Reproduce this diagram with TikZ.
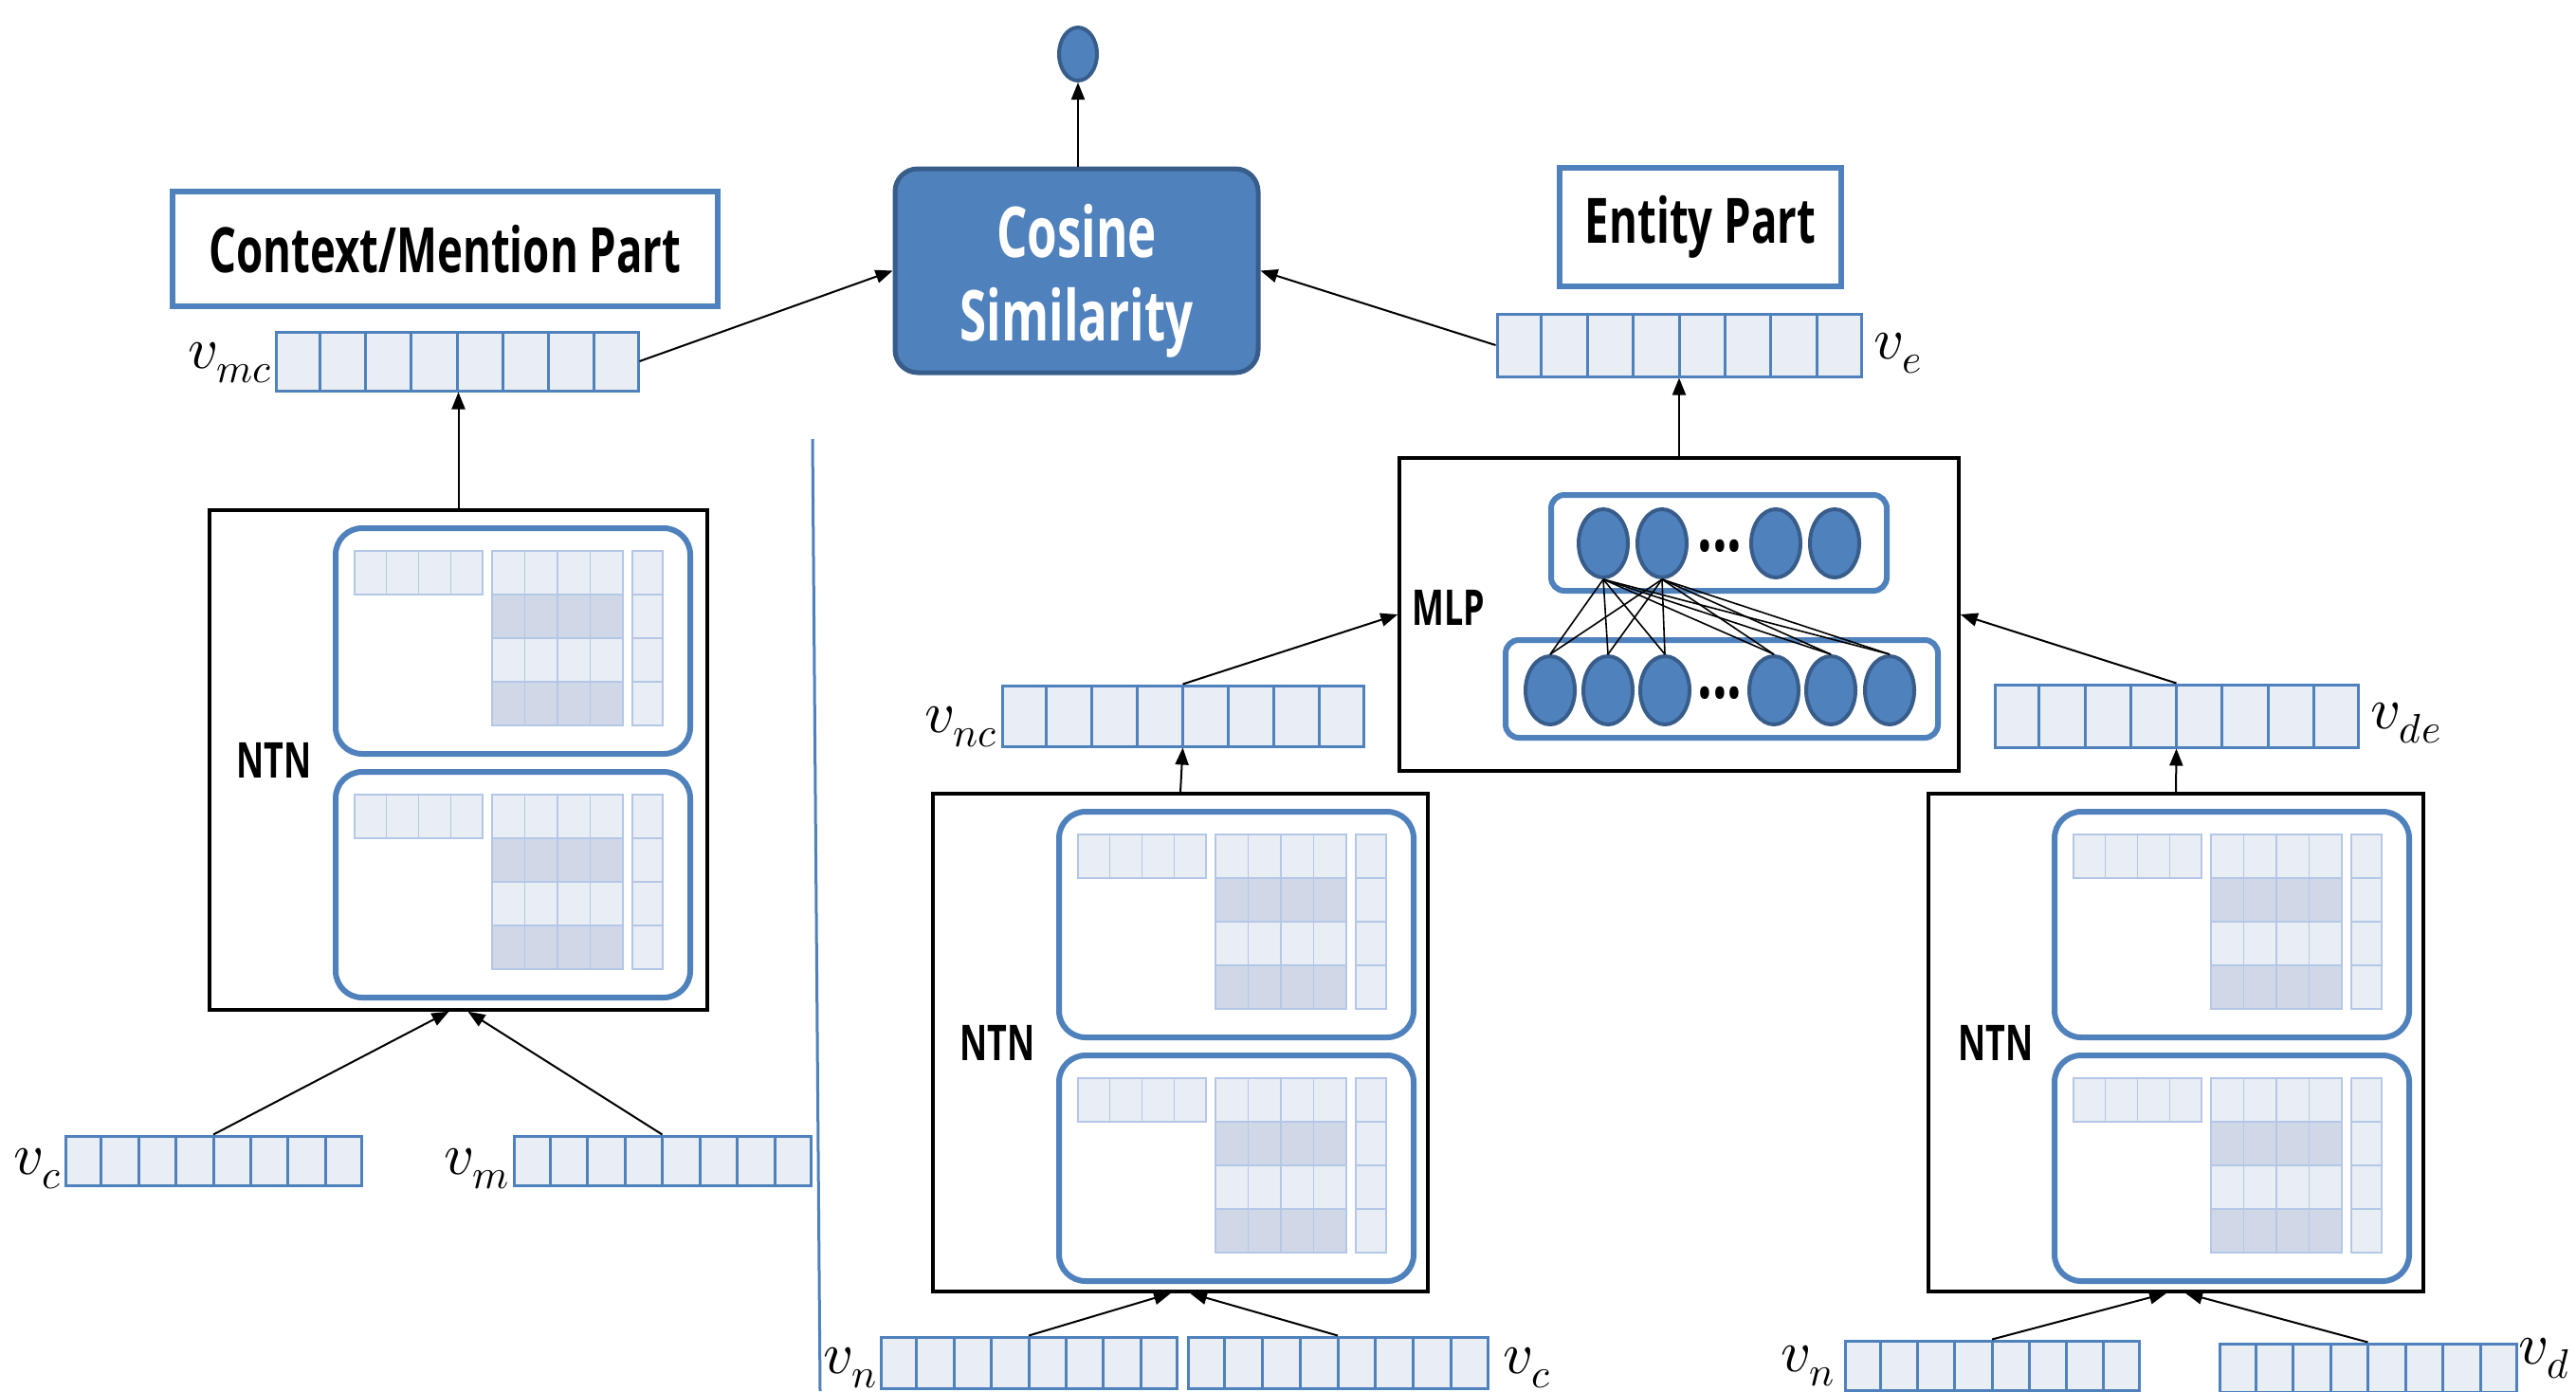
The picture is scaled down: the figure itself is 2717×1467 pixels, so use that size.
\documentclass[tikz,border=0pt]{standalone}
\usepackage{fontspec}
\usepackage{unicode-math}
\setmathfont{Latin Modern Math}
\newfontfamily\labfont{Open Sans}[FakeStretch=0.69]
\usetikzlibrary{arrows.meta,fit,calc,shapes.geometric}

\definecolor{obBlue}{HTML}{4F81BD}
\definecolor{obDark}{HTML}{385D8A}
\definecolor{cellLight}{HTML}{E9EDF4}
\definecolor{cellDark}{HTML}{D0D8E8}
\definecolor{gridBlue}{HTML}{B4C7E7}

\tikzset{
  vecbox/.style={draw=obBlue, fill=cellLight, line width=1.5pt, inner sep=0pt},
  vecedge/.style={draw=obBlue, line width=1.5pt},
  ntnbox/.style={draw=black, line width=1.75pt, inner sep=0pt},
  titlebox/.style={draw=obBlue, line width=3pt, fill=white, inner sep=0pt,
    font=\labfont\bfseries\fontsize{33}{36}\selectfont},
  cosbox/.style={draw=obDark, fill=obBlue, line width=2.5pt, rounded corners=12pt, inner sep=0pt},
  costext/.style={text=white, align=center, inner sep=0pt,
    font=\labfont\bfseries\fontsize{37}{44}\selectfont},
  neuron/.style={ellipse, draw=obDark, fill=obBlue, line width=2pt,
    minimum width=26pt, minimum height=36pt, inner sep=0pt},
  layerbox/.style={draw=obBlue, line width=3pt, rounded corners=7pt},
  tframe/.style={draw=obBlue, line width=3pt, rounded corners=14pt},
  cellL/.style={fill=cellLight, draw=gridBlue, line width=0.7pt},
  cellD/.style={fill=cellDark, draw=gridBlue, line width=0.7pt},
  blocklabel/.style={font=\labfont\bfseries\fontsize{26}{28}\selectfont, inner sep=0pt},
  dotlabel/.style={font=\labfont\bfseries\fontsize{40}{40}\selectfont, inner sep=0pt, anchor=base},
  mathlab/.style={font=\fontsize{31}{32}\selectfont, inner sep=0pt},
  conn/.style={draw=black, line width=1pt, -{Triangle[length=9pt,width=7pt]}},
  wire/.style={draw=black, line width=0.8pt},
}

% an 8-cell embedding vector spanning the given corners
\newcommand\vecn[5]{%
  \node[vecbox, fit={(#2,#3) (#4,#5)}] (#1) {};
  \foreach \k in {1,...,7}
    \draw[vecedge] ($(#1.north west)!\k/8!(#1.north east)$) -- ($(#1.south west)!\k/8!(#1.south east)$);
}

% one tensor slice: row vector, 4x4 matrix and column vector in a rounded frame
\newcommand\tensorgrid[2]{%
  \draw[tframe] (#1,#2) rectangle ++(374,238);
  \foreach \i in {0,...,3} {
    \draw[cellL] ({#1+20+\i*33.75},{#2+24}) rectangle ++(33.75,46);
    \draw[cellL] ({#1+313},{#2+24+\i*46}) rectangle ++(32,46);
  }
  \foreach \i in {0,...,3} \foreach \j in {0,2}
    \draw[cellL] ({#1+165+\i*34.5},{#2+24+\j*46}) rectangle ++(34.5,46);
  \foreach \i in {0,...,3} \foreach \j in {1,3}
    \draw[cellD] ({#1+165+\i*34.5},{#2+24+\j*46}) rectangle ++(34.5,46);
}

\begin{document}
\begin{tikzpicture}[x=0.5pt,y=-0.5pt]
\useasboundingbox (0,0) rectangle (2717,1467);
\fill[white] (0,0) rectangle (2717,1467);
\clip (0,0) rectangle (2717,1467);

% similarity head
\node[neuron, minimum width=20pt, minimum height=28pt] (out) at (1137,57) {};
\node[cosbox, minimum width=191.5pt, minimum height=107.5pt] (cos) at (1135.5,285.5) {};
\node[costext] (costxt) at ([yshift=-5.5pt]cos.center) {Cosine\\Similarity};

% part titles
\node[titlebox, minimum width=287.5pt, minimum height=60.5pt] (ctxTitle) at (469.5,262.5) {Context/Mention Part};
\node[titlebox, minimum width=148.5pt, minimum height=62.5pt] (entTitle) at (1793.5,239.5) {Entity Part};

% separator between the two parts
\coordinate (divTop) at (857,463);
\coordinate (divBot) at (865,1467);
\draw[obBlue, line width=1.5pt] (divTop) -- (divBot);

% vectors
\vecn{vmc}{291}{350}{673}{412}
\vecn{ve}{1579}{331}{1963}{397}
\vecn{vnc}{1057}{723}{1438}{787}
\vecn{vde}{2104}{722}{2487}{788}
\vecn{vcL}{69}{1198}{381}{1250}
\vecn{vmL}{542}{1198}{855}{1250}
\vecn{vnM}{929}{1410}{1241}{1464}
\vecn{vcM}{1253}{1410}{1569}{1464}
\vecn{vnR}{1946}{1414}{2256}{1466}
\vecn{vdR}{2341}{1417}{2654}{1468}

% NTN blocks
\node[ntnbox, fit={(221,538) (746,1065)}] (ntnL) {};
\node[ntnbox, fit={(984,837) (1506,1362)}] (ntnM) {};
\node[ntnbox, fit={(2034,837) (2556,1362)}] (ntnR) {};
\tensorgrid{354}{557}
\tensorgrid{354}{814}
\tensorgrid{1117}{856}
\tensorgrid{1117}{1113}
\tensorgrid{2167}{856}
\tensorgrid{2167}{1113}
\node[blocklabel] (ntnLlab) at (289,802) {NTN};
\node[blocklabel] (ntnMlab) at (1052,1100) {NTN};
\node[blocklabel] (ntnRlab) at (2105,1100) {NTN};

% MLP block
\node[ntnbox, fit={(1476,483) (2066,813)}] (mlp) {};
\node[blocklabel] (mlplab) at (1528,641) {MLP};
\draw[layerbox] (1636,522) rectangle (1990,623);
\draw[layerbox] (1588,675) rectangle (2044,778);
\node[neuron] (t1) at (1691,573) {};
\node[neuron] (t2) at (1753,573) {};
\node[neuron] (t3) at (1873,573) {};
\node[neuron] (t4) at (1935,573) {};
\node[neuron] (b1) at (1635,728) {};
\node[neuron] (b2) at (1696,728) {};
\node[neuron] (b3) at (1756,728) {};
\node[neuron] (b4) at (1871,728) {};
\node[neuron] (b5) at (1931,728) {};
\node[neuron] (b6) at (1993,728) {};
\foreach \s in {t1,t2} \foreach \d in {b1,b2,b3,b4,b5,b6}
  \draw[wire] (\s.south) -- (\d.north);
\node[dotlabel] (dotsT) at (1814,581) {...};
\node[dotlabel] (dotsB) at (1814,736) {...};

% labels
\node[mathlab, anchor=base east] (lvmc) at (288,388) {$v_{mc}$};
\node[mathlab, anchor=base west] (lve) at (1976,378) {$v_{e}$};
\node[mathlab, anchor=base east] (lvnc) at (1053,772) {$v_{nc}$};
\node[mathlab, anchor=base west] (lvde) at (2500,768) {$v_{de}$};
\node[mathlab, anchor=base east] (lvc) at (66,1238) {$v_{c}$};
\node[mathlab, anchor=base east] (lvm) at (538,1238) {$v_{m}$};
\node[mathlab, anchor=base east] (lvn1) at (926,1448) {$v_{n}$};
\node[mathlab, anchor=base west] (lvc2) at (1585,1448) {$v_{c}$};
\node[mathlab, anchor=base east] (lvn2) at (1936,1446) {$v_{n}$};
\node[mathlab, anchor=base west] (lvd) at (2656,1438) {$v_{d}$};

% connectors
\draw[conn] (cos.north -| out.south) -- (out.south);
\draw[conn] (vmc.east) -- (cos.west);
\draw[conn] (ve.west) -- (cos.east);
\draw[conn] (ntnL.north) -- (ntnL.north |- vmc.south);
\draw[conn] (vcL.north) -- ([xshift=-5pt]ntnL.south);
\draw[conn] (vmL.north) -- ([xshift=5pt]ntnL.south);
\draw[conn] (mlp.north) -- (ve.south);
\draw[conn] (vnc.north) -- (mlp.west);
\draw[conn] (vde.north) -- (mlp.east);
\draw[conn] (ntnM.north) -- (vnc.south);
\draw[conn] (ntnR.north) -- (vde.south);
\draw[conn] (vnM.north) -- ([xshift=-5pt]ntnM.south);
\draw[conn] (vcM.north) -- ([xshift=5pt]ntnM.south);
\draw[conn] (vnR.north) -- ([xshift=-5pt]ntnR.south);
\draw[conn] (vdR.north) -- ([xshift=5pt]ntnR.south);
\end{tikzpicture}
\end{document}
